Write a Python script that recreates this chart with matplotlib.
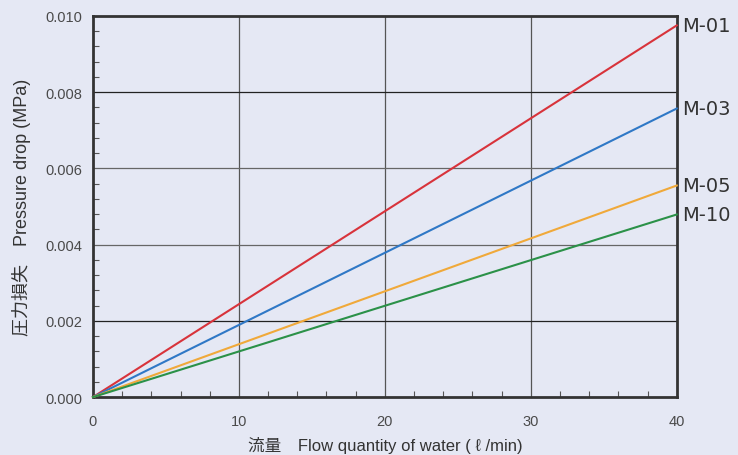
import matplotlib
matplotlib.use("Agg")
import matplotlib.pyplot as plt
from matplotlib.ticker import MultipleLocator

FAM = ['Liberation Sans', 'Noto Sans CJK JP', 'DejaVu Sans']
plt.rcParams['font.family'] = FAM

flow = [0, 40]
series = {
    "M-01": [0, 0.00975],
    "M-03": [0, 0.00757],
    "M-05": [0, 0.00555],
    "M-10": [0, 0.00479],
}
colors = {"M-01": "#d8333b", "M-03": "#2f78c6", "M-05": "#f0a93a", "M-10": "#2b9148"}
xticks = [0, 10, 20, 30, 40]
yticks = [0.000, 0.002, 0.004, 0.006, 0.008, 0.010]

bg = "#e5e8f4"
fig = plt.figure(figsize=(7.38, 4.56), dpi=100, facecolor=bg)
ax = fig.add_axes([0.126, 0.127, 0.791, 0.836], facecolor=bg)

ax.set_xlim(0, 40)
ax.set_ylim(0, 0.010)
ax.set_xticks(xticks)
ax.set_yticks(yticks)
ax.set_xticklabels([str(v) for v in xticks])
ax.set_yticklabels([f"{v:.3f}" for v in yticks])
ax.xaxis.set_minor_locator(MultipleLocator(2))
ax.yaxis.set_minor_locator(MultipleLocator(0.0004))
ax.tick_params(which='both', direction='in', colors='#555555', labelcolor='#4a4a4a', labelsize=10.5)
ax.tick_params(which='major', length=0)
ax.tick_params(axis='y', which='major', pad=8)
ax.tick_params(axis='x', which='major', pad=12)
ax.tick_params(which='minor', length=4, width=0.8)

# grid lines
for xv in xticks[1:-1]:
    ax.axvline(xv, color='#555555', lw=0.9, zorder=1)
ycols = {0.002: '#222222', 0.004: '#666666', 0.006: '#666666', 0.008: '#222222'}
for yv in yticks[1:-1]:
    ax.axhline(yv, color=ycols[yv], lw=0.9, zorder=1)

for s in ax.spines.values():
    s.set_linewidth(2.0)
    s.set_color('#333333')

for name, vals in series.items():
    ax.plot(flow, vals, color=colors[name], lw=1.5, zorder=3, clip_on=False)
    ax.annotate(name, xy=(flow[-1], vals[-1]), xytext=(4, 0), textcoords='offset points',
                va='center', ha='left', fontsize=14, color='#333333',
                family=['DejaVu Sans'], annotation_clip=False)

ax.set_ylabel("圧力損失　Pressure drop (MPa)", fontsize=13, color='#333333', labelpad=10)
ax.set_xlabel("流量　Flow quantity of water ( ℓ /min)", fontsize=12, color='#333333', labelpad=6)

fig.savefig("out.png", dpi=100, facecolor=bg)
